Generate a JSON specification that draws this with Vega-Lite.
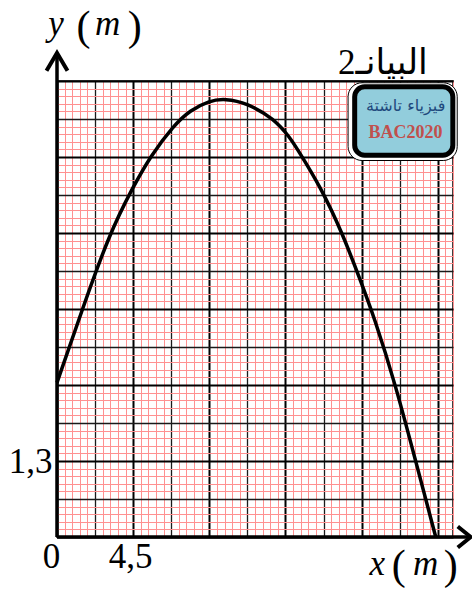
{
  "$schema": "https://vega.github.io/schema/vega-lite/v6.json",
  "width": 396,
  "height": 456,
  "autosize": {"type": "none"},
  "padding": {"left": 57, "top": 81, "right": 19, "bottom": 55},
  "background": "white",
  "config": {"view": {"stroke": "black", "strokeWidth": 1.5}},
  "encoding": {
    "x": {
      "field": "x", "type": "quantitative",
      "scale": {"domain": [0, 23.4], "nice": false, "zero": false},
      "axis": {
        "title": null,
        "values": [0,0.45,0.9,1.35,1.8,2.25,2.7,3.15,3.6,4.05,4.5,4.95,5.4,5.85,6.3,6.75,7.2,7.65,8.1,8.55,9,9.45,9.9,10.35,10.8,11.25,11.7,12.15,12.6,13.05,13.5,13.95,14.4,14.85,15.3,15.75,16.2,16.65,17.1,17.55,18,18.45,18.9,19.35,19.8,20.25,20.7,21.15,21.6,22.05,22.5,22.95,23.4],
        "grid": true,
        "gridColor": {"condition": [{"test": "abs(datum.value/4.5-round(datum.value/4.5))<0.001", "value": "#000000"}, {"test": "abs(datum.value/2.25-round(datum.value/2.25))<0.001", "value": "#1a1a1a"}], "value": "#ff9191"},
        "gridWidth": {"condition": [{"test": "abs(datum.value/4.5-round(datum.value/4.5))<0.001", "value": 2}, {"test": "abs(datum.value/2.25-round(datum.value/2.25))<0.001", "value": 1.3}], "value": 1},
        "domain": false,
        "ticks": false,
        "labelExpr": "datum.value == 0 ? '0' : (abs(datum.value-4.5)<0.001 ? '4,5' : '')",
        "labelFont": "Liberation Serif",
        "labelFontSize": 35,
        "labelColor": "black",
        "labelPadding": 2,
        "labelOverlap": false,
        "labelFlush": false,
        "labelBound": false,
        "labelOffset": {"condition": {"test": "datum.value == 0", "value": -6}, "value": -3}
      }
    },
    "y": {
      "field": "y", "type": "quantitative",
      "scale": {"domain": [0, 7.8], "nice": false, "zero": false},
      "axis": {
        "title": null,
        "values": [0,0.13,0.26,0.39,0.52,0.65,0.78,0.91,1.04,1.17,1.3,1.43,1.56,1.69,1.82,1.95,2.08,2.21,2.34,2.47,2.6,2.73,2.86,2.99,3.12,3.25,3.38,3.51,3.64,3.77,3.9,4.03,4.16,4.29,4.42,4.55,4.68,4.81,4.94,5.07,5.2,5.33,5.46,5.59,5.72,5.85,5.98,6.11,6.24,6.37,6.5,6.63,6.76,6.89,7.02,7.15,7.28,7.41,7.54,7.67,7.8],
        "grid": true,
        "gridColor": {"condition": [{"test": "abs(datum.value/1.3-round(datum.value/1.3))<0.001", "value": "#000000"}, {"test": "abs(datum.value/0.65-round(datum.value/0.65))<0.001", "value": "#1a1a1a"}], "value": "#ff9191"},
        "gridWidth": {"condition": [{"test": "abs(datum.value/1.3-round(datum.value/1.3))<0.001", "value": 2}, {"test": "abs(datum.value/0.65-round(datum.value/0.65))<0.001", "value": 1.3}], "value": 1},
        "domain": false,
        "ticks": false,
        "labelExpr": "abs(datum.value-1.3)<0.001 ? '1,3' : ''",
        "labelFont": "Liberation Serif",
        "labelFontSize": 35,
        "labelColor": "black",
        "labelPadding": 5,
        "labelOverlap": false,
        "labelFlush": false,
        "labelBound": false
      }
    }
  },
  "layer": [
    {
      "data": {"values": [
        {"x": 0, "y": 2.64}, {"x": 1.5, "y": 3.9}, {"x": 3.1, "y": 5.19}, {"x": 4.48, "y": 5.98},
        {"x": 5.51, "y": 6.51}, {"x": 6.89, "y": 7.04}, {"x": 7.87, "y": 7.3}, {"x": 8.96, "y": 7.46},
        {"x": 9.95, "y": 7.5}, {"x": 11.23, "y": 7.42}, {"x": 12.81, "y": 7.16}, {"x": 13.8, "y": 6.82},
        {"x": 14.19, "y": 6.64}, {"x": 15.57, "y": 5.99}, {"x": 16.86, "y": 5.2}, {"x": 17.94, "y": 4.38},
        {"x": 18.73, "y": 3.77}, {"x": 20.01, "y": 2.6}, {"x": 21.2, "y": 1.29}, {"x": 22.38, "y": 0}
      ]},
      "mark": {"type": "line", "color": "black", "strokeWidth": 3.5, "interpolate": "basis"}
    },
    {
      "data": {"values": [{"x": 17.2, "x2": 23.65, "y": 6.44, "y2": 7.77}]},
      "mark": {"type": "rect", "fill": "white", "stroke": "black", "strokeWidth": 1, "cornerRadius": 14},
      "encoding": {"x2": {"field": "x2"}, "y2": {"field": "y2"}}
    },
    {
      "data": {"values": [{"x": 17.59, "x2": 23.39, "y": 6.53, "y2": 7.7}]},
      "mark": {"type": "rect", "fill": "#92CDDC", "stroke": "black", "strokeWidth": 5, "cornerRadius": 10},
      "encoding": {"x2": {"field": "x2"}, "y2": {"field": "y2"}}
    },
    {
      "data": {"values": [{"x": 20.6, "y": 7.37, "t": "فيزياء تاشتة"}]},
      "mark": {"type": "text", "font": "DejaVu Sans", "fontSize": 16, "color": "#1F497D", "align": "center", "baseline": "middle"},
      "encoding": {"text": {"field": "t"}}
    },
    {
      "data": {"values": [{"x": 20.6, "y": 6.91, "t": "BAC2020"}]},
      "mark": {"type": "text", "font": "Liberation Serif", "fontWeight": "bold", "fontSize": 18, "color": "#C0504D", "align": "center", "baseline": "middle"},
      "encoding": {"text": {"field": "t"}}
    },
    {
      "data": {"values": [{"x": 21.91, "y": 7.92, "t": "البيانـ2"}]},
      "mark": {"type": "text", "font": "Liberation Serif, DejaVu Sans", "fontSize": 35, "color": "black", "align": "right", "baseline": "alphabetic"},
      "encoding": {"text": {"field": "t"}}
    },
    {
      "data": {"values": [{"x": 0, "y": 0, "x2": 24.4, "y2": 0}, {"x": 0, "y": 0, "x2": 0, "y2": 8.26}]},
      "mark": {"type": "rule", "color": "black", "strokeWidth": 3.5},
      "encoding": {"x2": {"field": "x2"}, "y2": {"field": "y2"}}
    },
    {
      "data": {"values": [{"x": 0, "y": 8.28}]},
      "mark": {"type": "point", "shape": "M-1,1.7L0,0L1,1.7", "size": 441, "filled": false, "stroke": "black", "strokeWidth": 4, "opacity": 1, "strokeJoin": "miter"}
    },
    {
      "data": {"values": [{"x": 24.45, "y": 0}]},
      "mark": {"type": "point", "shape": "M-1.24,-1L0,0L-1.24,1", "size": 441, "filled": false, "stroke": "black", "strokeWidth": 4, "opacity": 1, "strokeJoin": "miter"}
    },
    {
      "data": {"values": [{"x": -0.06, "y": 8.59, "t": "y"}, {"x": 2.99, "y": 8.59, "t": "m"}, {"x": 18.92, "y": -0.65, "t": "x"}, {"x": 21.79, "y": -0.65, "t": "m"}]},
      "mark": {"type": "text", "font": "Liberation Serif", "fontStyle": "italic", "fontSize": 35, "color": "black", "align": "center", "baseline": "alphabetic"},
      "encoding": {"text": {"field": "t"}}
    },
    {
      "data": {"values": [{"x": 1.57, "y": 8.5, "t": "("}, {"x": 4.59, "y": 8.5, "t": ")"}, {"x": 20.19, "y": -0.72, "t": "("}, {"x": 23.27, "y": -0.72, "t": ")"}]},
      "mark": {"type": "text", "font": "Liberation Serif", "fontSize": 42, "color": "black", "align": "center", "baseline": "alphabetic"},
      "encoding": {"text": {"field": "t"}}
    }
  ]
}
